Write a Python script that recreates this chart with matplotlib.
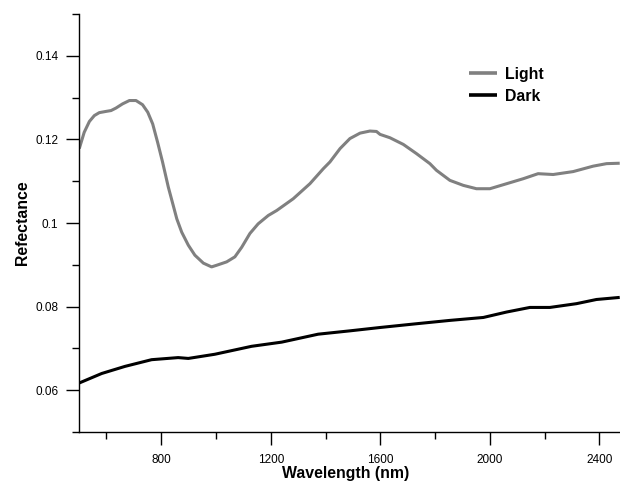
import matplotlib
matplotlib.use("Agg")
import matplotlib.pyplot as plt
from matplotlib.ticker import FixedLocator, FixedFormatter

plt.rcParams['font.family'] = ['Liberation Sans', 'DejaVu Sans']

light_wl = [501, 519, 538, 556, 574, 599, 617, 635, 659, 684, 708, 732, 751, 769, 787, 805,
            826, 844, 857, 875, 899, 923, 954, 984, 1003, 1039, 1069, 1094, 1124, 1154, 1191,
            1222, 1282, 1343, 1392, 1416, 1453, 1489, 1526, 1562, 1586, 1599, 1635, 1684,
            1732, 1781, 1805, 1854, 1903, 1951, 2000, 2061, 2122, 2176, 2231, 2304, 2377,
            2426, 2474]
light_val = [0.1178, 0.1217, 0.1243, 0.1257, 0.1264, 0.1267, 0.1269, 0.1275, 0.1285, 0.1293,
             0.1293, 0.1283, 0.1265, 0.1237, 0.1193, 0.1146, 0.1086, 0.1042, 0.1010, 0.0978,
             0.0947, 0.0923, 0.0904, 0.0895, 0.0899, 0.0907, 0.0919, 0.0942, 0.0975, 0.0998,
             0.1018, 0.1030, 0.1058, 0.1094, 0.1130, 0.1146, 0.1178, 0.1202, 0.1215, 0.1220,
             0.1219, 0.1212, 0.1204, 0.1188, 0.1166, 0.1142, 0.1126, 0.1102, 0.1090, 0.1082,
             0.1082, 0.1094, 0.1106, 0.1118, 0.1116, 0.1123, 0.1136, 0.1142, 0.1143]

dark_wl = [500, 583, 668, 765, 862, 899, 996, 1130, 1240, 1373, 1489, 1599, 1732, 1854,
           1976, 2061, 2146, 2219, 2316, 2389, 2474]
dark_val = [0.0617, 0.0640, 0.0657, 0.0673, 0.0678, 0.0676, 0.0686, 0.0705, 0.0715, 0.0734,
            0.0742, 0.0750, 0.0759, 0.0767, 0.0774, 0.0787, 0.0798, 0.0798, 0.0807, 0.0817,
            0.0822]

x_major = [800, 1200, 1600, 2000, 2400]
x_minor = [600, 1000, 1400, 1800, 2200]
y_major = [0.06, 0.08, 0.10, 0.12, 0.14]
y_major_labels = ['0.06', '0.08', '0.1', '0.12', '0.14']
y_minor = [0.05, 0.07, 0.09, 0.11, 0.13, 0.15]

fig = plt.figure(figsize=(6.2, 4.83), dpi=100)
ax = fig.add_axes([79/620, 51/483, 541/620, 418/483])

ax.plot(light_wl, light_val, color='#808080', lw=2.2, label='Light',
        solid_joinstyle='round', solid_capstyle='butt')
ax.plot(dark_wl, dark_val, color='black', lw=2.2, label='Dark',
        solid_joinstyle='round', solid_capstyle='butt')

ax.set_xlim(500, 2475)
ax.set_ylim(0.05, 0.15)

for s in ['top', 'right']:
    ax.spines[s].set_visible(False)
for s in ['left', 'bottom']:
    ax.spines[s].set_linewidth(1.0)

ax.xaxis.set_major_locator(FixedLocator(x_major))
ax.xaxis.set_minor_locator(FixedLocator(x_minor))
ax.yaxis.set_major_locator(FixedLocator(y_major))
ax.yaxis.set_major_formatter(FixedFormatter(y_major_labels))
ax.yaxis.set_minor_locator(FixedLocator(y_minor))

ax.tick_params(which='major', direction='out', length=9.4, width=1.0, labelsize=8.5, pad=5.5)
ax.tick_params(axis='x', which='major', pad=6.5)
ax.tick_params(which='minor', direction='out', length=4.7, width=1.0)

ax.set_xlabel('Wavelength (nm)', fontsize=11.4, fontweight='bold', va='center')
ax.xaxis.set_label_coords(0.4935, -0.100)
ax.set_ylabel('Refectance', fontsize=11.4, fontweight='bold', va='center')
ax.yaxis.set_label_coords(-0.105, 0.5)

leg = ax.legend(loc='upper left', bbox_to_anchor=(0.7208, 0.874), frameon=False,
                prop={'weight': 'bold', 'size': 11.4}, handlelength=1.8, handletextpad=0.45,
                labelspacing=0.45, borderpad=0, borderaxespad=0)
for line in leg.get_lines():
    line.set_linewidth(2.6)

fig.savefig('out.png', dpi=100)
